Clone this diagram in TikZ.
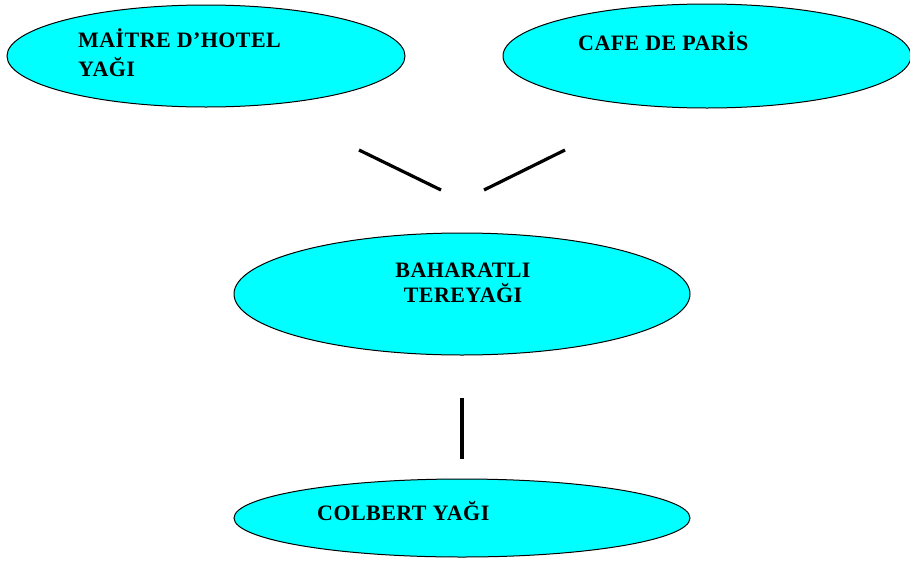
\documentclass[tikz,border=0pt]{standalone}
\usepackage{fontspec}
\setmainfont{Liberation Serif}[LetterSpace=2]
\usetikzlibrary{shapes.geometric}
\definecolor{aqua}{RGB}{0,255,255}
\tikzset{
  bubble/.style={ellipse, draw=black, line width=1pt, fill=aqua, inner sep=0pt},
  lbl/.style={anchor=base west, inner sep=0pt, font=\fontsize{22}{26}\selectfont\bfseries},
  link/.style={line width=3.2pt, black}
}
\begin{document}
\begin{tikzpicture}[x=1pt,y=-1pt]
\useasboundingbox (0,0) rectangle (910,560);
% ellipses
\node[bubble, minimum width=398pt, minimum height=102pt] (e1) at (206,56) {};
\node[bubble, minimum width=408pt, minimum height=104pt] (e2) at (707,56) {};
\node[bubble, minimum width=456pt, minimum height=122pt] (e3) at (462,294) {};
\node[bubble, minimum width=456pt, minimum height=78pt] (e4) at (462,518) {};
% labels
\node[lbl] (t1a) at (78,47) {MAİTRE D’HOTEL};
\node[lbl] (t1b) at (78,76) {YAĞI};
\node[lbl] (t2) at (578,50) {CAFE DE PARİS};
\node[lbl, anchor=base] (t3a) at (463,277) {BAHARATLI};
\node[lbl, anchor=base] (t3b) at (463,302) {TEREYAĞI};
\node[lbl] (t4) at (317,520) {COLBERT YAĞI};
% connectors
\coordinate (a1) at (359,150);
\coordinate (a2) at (441,190);
\coordinate (b1) at (484,190);
\coordinate (b2) at (565,150);
\coordinate (c1) at (462,398);
\coordinate (c2) at (462,459);
\draw[link] (a1) -- (a2);
\draw[link] (b1) -- (b2);
\draw[link] (c1) -- (c2);
\end{tikzpicture}
\end{document}
